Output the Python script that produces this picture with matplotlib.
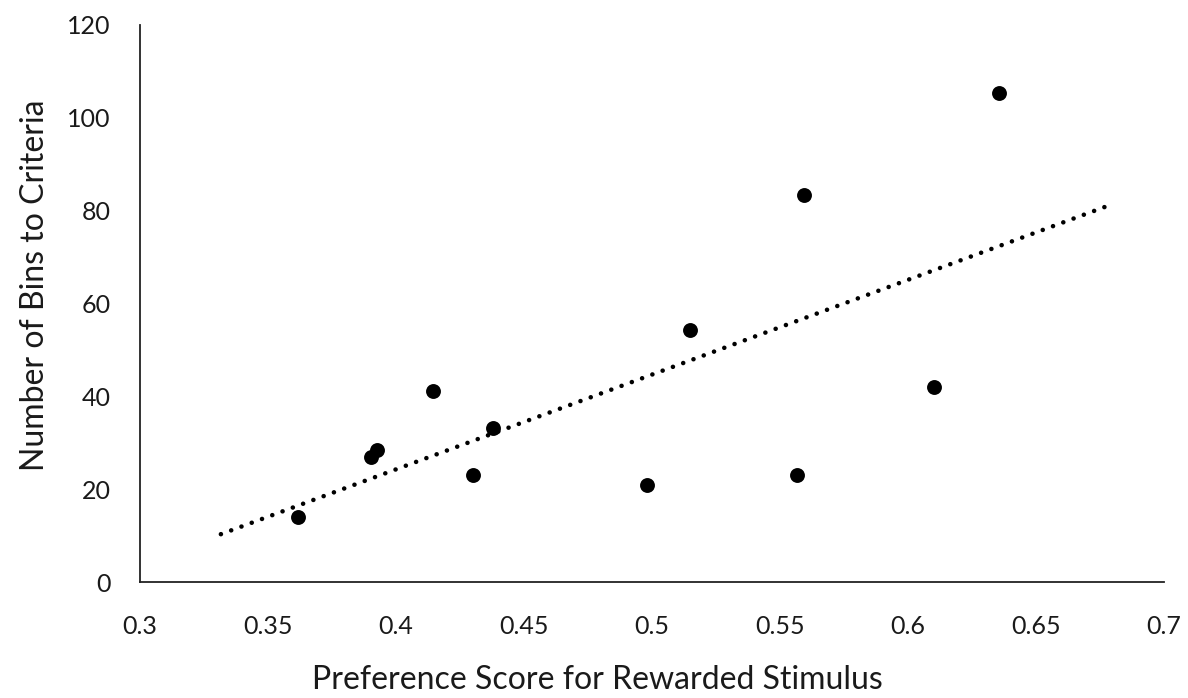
import numpy as np
import matplotlib
matplotlib.use("Agg")
import matplotlib.pyplot as plt

plt.rcParams['font.family'] = ['Lato', 'DejaVu Sans']

# Data
preference_score = [0.3616, 0.3901, 0.3925, 0.4143, 0.4380, 0.4302,
                    0.4979, 0.5150, 0.5566, 0.5594, 0.6102, 0.6357]
bins_to_criteria = [14.0, 27.0, 28.4, 41.1, 33.2, 23.0,
                    21.0, 54.3, 23.0, 83.3, 42.1, 105.3]
trend_range = [0.3316, 0.6772]
x_ticks = [0.3, 0.35, 0.4, 0.45, 0.5, 0.55, 0.6, 0.65, 0.7]
x_tick_labels = ['0.3', '0.35', '0.4', '0.45', '0.5', '0.55', '0.6', '0.65', '0.7']
y_ticks = [0, 20, 40, 60, 80, 100, 120]

W, H = 1188, 698
fig = plt.figure(figsize=(W / 100, H / 100), dpi=100)
ax = fig.add_axes([140 / W, 1 - 582 / H, (1164 - 140) / W, (582 - 25) / H])

ax.scatter(preference_score, bins_to_criteria, s=115, color='black',
           zorder=3, linewidths=0)

slope, intercept = np.polyfit(preference_score, bins_to_criteria, 1)
tx = np.array(trend_range)
ax.plot(tx, slope * tx + intercept, color='black', lw=3.3,
        linestyle=(0, (0.01, 2.38)), dash_capstyle='round', zorder=2)

ax.set_xlim(0.3, 0.7)
ax.set_ylim(0, 120)
ax.set_xticks(x_ticks)
ax.set_xticklabels(x_tick_labels)
ax.set_yticks(y_ticks)
ax.tick_params(axis='both', length=0, labelsize=18, colors='#1a1a1a')
ax.tick_params(axis='x', pad=24)
ax.tick_params(axis='y', pad=21)

for side in ['top', 'right']:
    ax.spines[side].set_visible(False)
for side in ['left', 'bottom']:
    ax.spines[side].set_color('#222222')
    ax.spines[side].set_linewidth(1.3)

fig.text(597 / W, 1 - 680 / H, 'Preference Score for Rewarded Stimulus',
         ha='center', va='center', fontsize=23, color='#1a1a1a')
fig.text(35 / W, 1 - 285 / H, 'Number of Bins to Criteria',
         ha='center', va='center', rotation=90, fontsize=23, color='#1a1a1a')

fig.savefig('out.png', dpi=100, facecolor='white')
